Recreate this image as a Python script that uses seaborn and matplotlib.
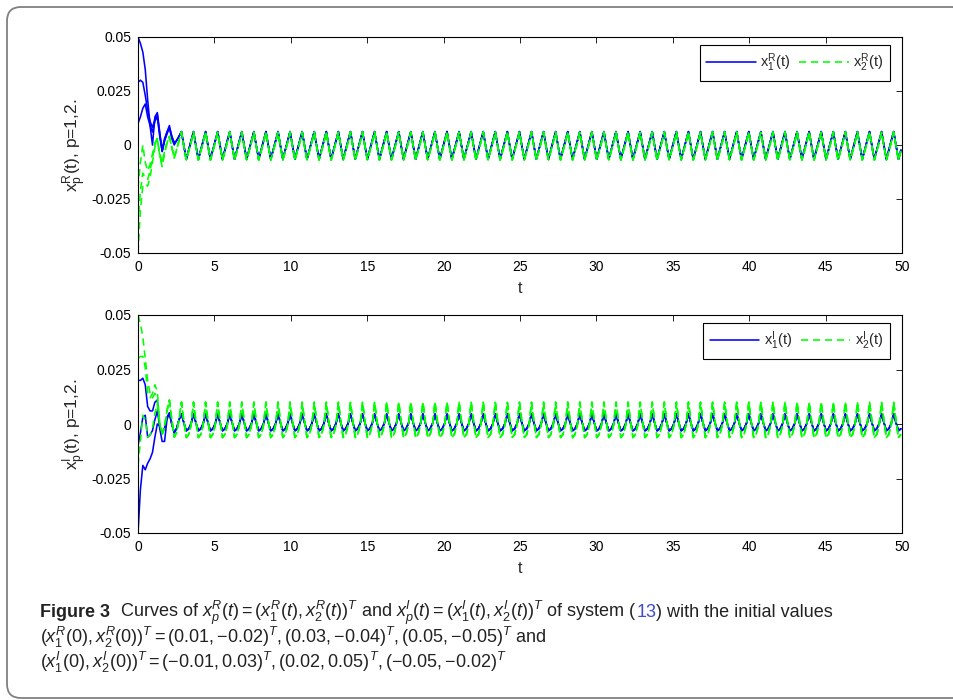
import numpy as np
import pandas as pd
import matplotlib
matplotlib.use("Agg")
import matplotlib.pyplot as plt
import seaborn as sns
from matplotlib import font_manager
from matplotlib.lines import Line2D
from matplotlib.patches import FancyBboxPatch
from matplotlib.transforms import IdentityTransform

# period of the steady oscillation (~63 cycles on 0..50)
period = 0.79
n_per_cycle = 5
t_end = 50

# one steady-state cycle per state, 5 samples per period (index 3 = peak)
cyc_x1R = [-0.0066, -0.0024, 0.0016, 0.0062, -0.0004]
cyc_x2R = [-0.0070, -0.0028, 0.0012, 0.0060, -0.0008]
cyc_x1I = [-0.0031, -0.0022, 0.0002, 0.0046, 0.0005]
cyc_x2I = [-0.0062, -0.0048, -0.0005, 0.0100, 0.0012]

# transient part of each trajectory (first 18 samples)
x1R_run1 = [0.010, 0.013, 0.017, 0.019, 0.013, 0.009, 0.006, 0.011, 0.013, 0.004, -0.003, 0.002, 0.005, 0.008, 0.003, 0.000, 0.002, 0.004]
x1R_run2 = [0.029, 0.030, 0.029, 0.023, 0.016, 0.011, 0.008, 0.012, 0.014, 0.005, -0.002, 0.003, 0.006, 0.008, 0.004, 0.001, 0.002, 0.004]
x1R_run3 = [0.050, 0.047, 0.043, 0.035, 0.021, 0.009, 0.000, 0.013, 0.015, 0.006, -0.003, 0.002, 0.006, 0.009, 0.004, 0.001, 0.002, 0.004]
x2R_run1 = [-0.020, -0.008, 0.000, -0.008, -0.012, -0.009, -0.004, 0.001, 0.003, -0.004, -0.008, -0.003, 0.001, 0.004, -0.001, -0.006, -0.002, 0.002]
x2R_run2 = [-0.037, -0.021, -0.013, -0.015, -0.016, -0.012, -0.006, 0.000, 0.003, -0.005, -0.009, -0.003, 0.001, 0.004, -0.001, -0.006, -0.002, 0.002]
x2R_run3 = [-0.050, -0.030, -0.019, -0.018, -0.019, -0.015, -0.008, -0.001, 0.003, -0.005, -0.010, -0.004, 0.001, 0.004, -0.001, -0.006, -0.002, 0.002]

x1I_run1 = [-0.010, -0.004, 0.003, 0.004, -0.006, -0.005, -0.003, 0.002, 0.006, -0.001, -0.004, -0.002, 0.003, 0.005, 0.000, -0.004, -0.002, 0.002]
x1I_run2 = [0.020, 0.020, 0.021, 0.018, 0.008, 0.006, 0.006, 0.010, 0.011, -0.002, -0.008, -0.008, 0.002, 0.005, 0.000, -0.004, -0.002, 0.002]
x1I_run3 = [-0.050, -0.030, -0.019, -0.021, -0.018, -0.016, -0.013, -0.006, 0.000, -0.001, -0.004, -0.002, 0.003, 0.005, 0.000, -0.004, -0.002, 0.002]
x2I_run1 = [0.030, 0.031, 0.031, 0.026, 0.014, 0.012, 0.014, 0.018, 0.015, 0.000, -0.004, -0.001, 0.006, 0.011, 0.002, -0.006, -0.004, 0.002]
x2I_run2 = [0.050, 0.046, 0.040, 0.030, 0.020, 0.014, 0.012, 0.014, 0.011, 0.000, -0.005, -0.002, 0.006, 0.011, 0.002, -0.006, -0.004, 0.002]
x2I_run3 = [-0.019, -0.008, 0.004, 0.002, -0.006, -0.005, -0.002, 0.005, 0.009, 0.000, -0.004, -0.001, 0.006, 0.011, 0.002, -0.006, -0.004, 0.002]

x_ticks = [0, 5, 10, 15, 20, 25, 30, 35, 40, 45, 50]
y_ticks = [-0.05, -0.025, 0, 0.025, 0.05]
y_ticklabels = ["-0.05", "-0.025", "0", "0.025", "0.05"]

dt = period / n_per_cycle
t = np.arange(int(t_end / dt) + 2) * dt
t = t[t <= t_end + 1e-9]


def trajectory(transient, cycle):
    vals = [transient[k] if k < len(transient) else cycle[k % n_per_cycle] for k in range(len(t))]
    return np.array(vals)


def panel_frame(runs1, cyc1, runs2, cyc2):
    rows = []
    for name, runs, cyc in [("x1", runs1, cyc1), ("x2", runs2, cyc2)]:
        for i, tr in enumerate(runs):
            rows.append(pd.DataFrame({"t": t, "value": trajectory(tr, cyc),
                                      "state": name, "run": f"{name}_{i}"}))
    return pd.concat(rows, ignore_index=True)


dfR = panel_frame([x1R_run1, x1R_run2, x1R_run3], cyc_x1R, [x2R_run1, x2R_run2, x2R_run3], cyc_x2R)
dfI = panel_frame([x1I_run1, x1I_run2, x1I_run3], cyc_x1I, [x2I_run1, x2I_run2, x2I_run3], cyc_x2I)

sns.set_style("white")
plt.rcParams["font.family"] = ["Liberation Sans", "DejaVu Sans"]
plt.rcParams["mathtext.fontset"] = "custom"
plt.rcParams["mathtext.rm"] = "Liberation Sans"
plt.rcParams["mathtext.it"] = "Liberation Sans:italic"
plt.rcParams["mathtext.bf"] = "Liberation Sans:bold"

names = {f.name for f in font_manager.fontManager.ttflist}
cap_font = "Liberation Sans Narrow" if "Liberation Sans Narrow" in names else "Liberation Sans"

blue = (0, 0, 1)
green = (0, 1, 0)
lw = 1.15
dash = (4.5, 3)

fig = plt.figure(figsize=(9.54, 7.0), dpi=100)
axR = fig.add_axes([138 / 954, 1 - 253 / 700, 764 / 954, 216 / 700])
axI = fig.add_axes([138 / 954, 1 - 533 / 700, 764 / 954, 218 / 700])

panels = [(axR, dfR, "R", (0.984, 0.963)), (axI, dfI, "I", (0.984, 0.963))]
for ax, df, tag, anchor in panels:
    sns.lineplot(data=df, x="t", y="value", hue="state", style="state", units="run",
                 estimator=None, palette={"x1": blue, "x2": green},
                 dashes={"x1": "", "x2": dash}, lw=lw, legend=False, ax=ax, sort=False)
    ax.set_xlim(0, 50)
    ax.set_ylim(-0.05, 0.05)
    ax.set_xticks(x_ticks)
    ax.set_xticklabels([str(v) for v in x_ticks])
    ax.set_yticks(y_ticks)
    ax.set_yticklabels(y_ticklabels)
    ax.tick_params(direction="in", top=True, right=True, length=4, width=0.6,
                   labelsize=10, pad=5, colors="black")
    for s in ax.spines.values():
        s.set_linewidth(0.8)
        s.set_color("black")
    ax.set_xlabel("t", fontsize=11.5, labelpad=5)
    ax.set_ylabel("x$_\\mathrm{p}^\\mathrm{" + tag + "}$(t), p=1,2.", fontsize=12.5, labelpad=2)
    handles = [Line2D([], [], color=blue, lw=lw),
               Line2D([], [], color=green, lw=lw, dashes=dash)]
    labels = ["x$_\\mathrm{1}^\\mathrm{" + tag + "}$(t)", "x$_\\mathrm{2}^\\mathrm{" + tag + "}$(t)"]
    leg = ax.legend(handles, labels, ncol=2, loc="upper right", bbox_to_anchor=anchor,
                    frameon=True, fancybox=False, edgecolor="black", framealpha=1,
                    handlelength=3.4, columnspacing=0.6, handletextpad=0.3,
                    borderpad=0.45, borderaxespad=0, fontsize=10.5)
    leg.get_frame().set_linewidth(0.8)

# rounded frame around the figure
frame = FancyBboxPatch((7, 2), 960, 691, boxstyle="round,pad=0,rounding_size=14",
                       transform=IdentityTransform(), fill=False,
                       edgecolor="#808080", lw=1.3)
fig.add_artist(frame)

# caption, built piece by piece
cap_size = 13
cap_color = "#222222"
link_blue = "#3a4fc8"


def caption_line(pieces, x, y):
    prev = None
    for txt, kw in pieces:
        style = dict(fontsize=cap_size, color=cap_color, family=cap_font,
                     va="baseline", ha="left", annotation_clip=False)
        style.update(kw)
        if prev is None:
            prev = axI.annotate(txt, xy=(x, y), xycoords="figure pixels", **style)
        else:
            prev = axI.annotate(txt, xy=(1, y), xycoords=(prev, "figure pixels"), **style)


caption_line([
    ("Figure 3", {"fontweight": "bold"}),
    (r"  Curves of $x_p^R(t) = (x_1^R(t), x_2^R(t))^T$ and $x_p^I(t) = (x_1^I(t), x_2^I(t))^T$ of system (", {}),
    ("13", {"color": link_blue}),
    (") with the initial values", {}),
], 40, 700 - 617)
caption_line([
    (r"$(x_1^R(0), x_2^R(0))^T = (0.01, {-}0.02)^T, (0.03, {-}0.04)^T, (0.05, {-}0.05)^T$ and", {}),
], 40, 700 - 643)
caption_line([
    (r"$(x_1^I(0), x_2^I(0))^T = ({-}0.01, 0.03)^T, (0.02, 0.05)^T, ({-}0.05, {-}0.02)^T$", {}),
], 40, 700 - 668)

fig.savefig("out.png", dpi=100)
